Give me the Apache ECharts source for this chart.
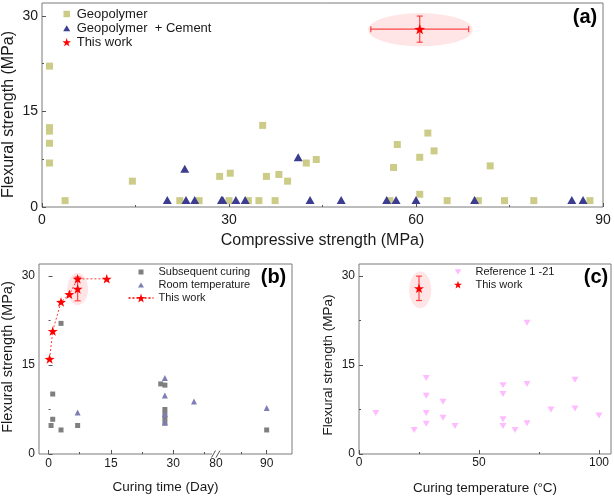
<!DOCTYPE html>
<html><head><meta charset="utf-8">
<script src="https://cdn.jsdelivr.net/npm/echarts@6/dist/echarts.min.js"></script>
<style>html,body{margin:0;padding:0;background:#fff}#c{width:614px;height:498px}</style>
</head><body><div id="c"></div>
<script>
// ---------- DATA ----------
// Panel (a): compressive strength (MPa) vs flexural strength (MPa)
const geopolymer = [[1.2,22.1],[1.2,12.45],[1.2,11.9],[1.2,10.0],[1.2,6.9],[3.7,1],[14.5,4.05],[22.1,1],[25.2,1],[28.5,4.8],[30.0,1],[30.2,5.3],[33.1,1],[34.8,1],[35.4,12.8],[36.0,4.8],[37.4,1],[38.0,5.1],[39.4,4.05],[42.4,6.9],[44.0,7.45],[55.8,1],[56.4,6.2],[57.0,9.8],[60.6,7.8],[60.6,2.0],[61.9,11.6],[62.9,8.8],[65.0,1],[70.0,1],[71.9,6.45],[74.2,1],[78.9,1],[87.9,1]];
const geopolymerCement = [[20.1,1.1],[22.9,6.0],[23.1,1.1],[24.5,1.1],[28.8,1.1],[29.0,1.1],[31.1,1.1],[32.6,1.1],[41.1,7.8],[43.0,1.1],[48.0,1.1],[55.3,1.1],[56.8,1.1],[60.0,1.1],[69.4,1.1],[85.0,1.1],[86.8,1.1]];
const thisWorkA = [[60.6,27.9]];
const thisWorkAErr = [[60.6,27.9,7.85,2.05]];   // x, y, x error, y error
const compTicks = [0,30,60,90];
const compMinorTicks = [15,45,75];

// Panel (b): curing time (day) vs flexural strength (MPa)
const subsequentCuring = [[0.6,4.8],[1,5.85],[1,10.1],[3,4.05],[3,22.0],[7,4.8],[27,11.8],[28,11.6],[28,7.5],[28,6.7],[28,6.0],[28,5.2],[90,4.05]];
const roomTemperature = [[7,7.0],[28,12.8],[28,9.85],[28,6.7],[28,5.3],[35,8.85],[90,7.75]];
const thisWorkB = [[0.25,16.0],[1,20.7],[3,25.6],[5,26.9],[7,29.5],[14,29.5]];
const thisWorkBExtra = [[7,27.8]];
const thisWorkBErr = [[7,27.8,0,2.0]];
const timeTicks = [0,15,30];
const timeMinorTicks = [7.5,22.5,37.5];
const timeTicksRight = [80,90];
const timeMinorTicksRight = [85];

// Panel (c): curing temperature (°C) vs flexural strength (MPa)
const reference = [[7,6.9],[23,4.05],[28,12.8],[28,9.8],[28,6.9],[28,5.1],[35,8.8],[35,6.1],[40,4.7],[60,11.6],[60,10.1],[60,5.85],[60,4.7],[65,4.05],[70,22.1],[70,11.8],[70,5.2],[80,7.5],[90,12.5],[90,7.65],[100,6.5]];
const thisWorkC = [[25,27.9]];
const thisWorkCErr = [[25,27.9,0,2.05]];
const tempTicks = [0,50,100];
const tempMinorTicks = [25,75];

// shared flexural-strength ticks
const flexTicks = [0,15,30];
const flexMinorTicks = [7.5,22.5];

// highlight ellipses around "This work" (centre x, centre y, half-width, half-height in data units)
const ellipseA = [[60.7,27.8,8.4,2.6]];
const ellipseB = [[7.0,27.8,2.5,2.7]];
const ellipseC = [[25.5,27.65,4.6,3.1]];

// ---------- STYLE ----------
const FONT = '"Liberation Sans", Arial, sans-serif';
const FRAME = '#7a7a7a';
const TXT = '#1a1a1a';
const RED = '#ff0000';

function starPath(cx, cy, R, box) {
  let s = box ? `M0,0 M${box},${box} ` : '';
  for (let k = 0; k < 10; k++) {
    const r = k % 2 ? R * 0.40 : R;
    const a = (-90 + 36 * k) * Math.PI / 180;
    s += (k ? 'L' : 'M') + (cx + r * Math.cos(a)).toFixed(3) + ',' + (cy + r * Math.sin(a)).toFixed(3) + ' ';
  }
  return 'path://' + s + 'Z';
}
const STAR = starPath(0, 0, 5, 0);
const padRect = (box, s) => { const a = (box - s) / 2, b = a + s; return `path://M0,0 M${box},${box} M${a},${a} L${b},${a} L${b},${b} L${a},${b} Z`; };
const padTri = (box, s, down) => { const a = (box - s) / 2, b = a + s, m = box / 2, h = s * 0.87, t = (box - h) / 2;
  return down ? `path://M0,0 M${box},${box} M${a},${t} L${b},${t} L${m},${t + h} Z` : `path://M0,0 M${box},${box} M${a},${t + h} L${b},${t + h} L${m},${t} Z`; };

function ellipseSeries(xi, yi, data) {
  return { type: 'custom', xAxisIndex: xi, yAxisIndex: yi, silent: true, z: 1, data,
    renderItem(p, api) {
      const c = api.coord([api.value(0), api.value(1)]);
      const s = api.size([api.value(2), api.value(3)]);
      return { type: 'ellipse', shape: { cx: c[0], cy: c[1], rx: s[0], ry: s[1] }, style: { fill: 'rgba(255,70,70,0.14)' } };
    } };
}
function errorSeries(xi, yi, data) {
  return { type: 'custom', xAxisIndex: xi, yAxisIndex: yi, silent: true, z: 3, data,
    renderItem(p, api) {
      const x = api.value(0), y = api.value(1), ex = api.value(2), ey = api.value(3);
      const st = { stroke: 'rgba(255,40,40,0.85)', lineWidth: 1.2 };
      const ch = []; const cap = 3;
      if (ex > 0) {
        const a = api.coord([x - ex, y]), b = api.coord([x + ex, y]);
        ch.push({ type: 'line', shape: { x1: a[0], y1: a[1], x2: b[0], y2: b[1] }, style: st });
        ch.push({ type: 'line', shape: { x1: a[0], y1: a[1] - cap, x2: a[0], y2: a[1] + cap }, style: st });
        ch.push({ type: 'line', shape: { x1: b[0], y1: b[1] - cap, x2: b[0], y2: b[1] + cap }, style: st });
      }
      if (ey > 0) {
        const a = api.coord([x, y - ey]), b = api.coord([x, y + ey]);
        ch.push({ type: 'line', shape: { x1: a[0], y1: a[1], x2: b[0], y2: b[1] }, style: st });
        ch.push({ type: 'line', shape: { x1: a[0] - cap, y1: a[1], x2: a[0] + cap, y2: a[1] }, style: st });
        ch.push({ type: 'line', shape: { x1: b[0] - cap, y1: b[1], x2: b[0] + cap, y2: b[1] }, style: st });
      }
      return { type: 'group', children: ch };
    } };
}

// axis with labelled major ticks
function majorAxis(o) {
  return {
    type: 'value', gridIndex: o.grid, position: o.pos, offset: 0, min: o.min, max: o.max, nameMoveOverlap: false,
    axisLine: { show: false }, splitLine: { show: false }, minorTick: { show: false },
    axisTick: { show: true, inside: true, length: 4, customValues: o.ticks, lineStyle: { color: '#555', width: 1 } },
    axisLabel: { show: true, color: TXT, fontFamily: FONT, fontSize: o.fs || 12, margin: o.margin || 4, customValues: o.labels || o.ticks },
    name: o.name || '', nameLocation: 'middle', nameGap: o.gap || 0,
    nameTextStyle: { color: TXT, fontFamily: FONT, fontSize: o.nfs || 13.5, padding: o.npad || 0 }
  };
}
// companion axis that only draws short minor ticks
function minorAxis(o) {
  return {
    type: 'value', gridIndex: o.grid, position: o.pos, offset: 0, min: o.min, max: o.max, nameMoveOverlap: false,
    axisLine: { show: false }, splitLine: { show: false }, minorTick: { show: false },
    axisTick: { show: true, inside: true, length: 2, customValues: o.ticks, lineStyle: { color: '#555', width: 1 } },
    axisLabel: { show: false }
  };
}
function hiddenAxis(grid, min, max, pos) {
  return { type: 'value', gridIndex: grid, position: pos, min, max, show: false, splitLine: { show: false } };
}

const leftPart = d => d.filter(p => p[0] <= 45);
const rightPart = d => d.filter(p => p[0] >= 75);

const gridBase = { containLabel: false, outerBoundsMode: 'none', backgroundColor: 'transparent' };
const framed = { show: true, borderColor: FRAME, borderWidth: 1 };

const option = {
  animation: false,
  backgroundColor: '#fff',
  textStyle: { fontFamily: FONT },
  grid: [
    Object.assign({ left: 42, top: 3, width: 561, height: 204 }, gridBase, framed),
    Object.assign({ left: 39, top: 264, width: 177, height: 190 }, gridBase),
    Object.assign({ left: 216, top: 264, width: 76, height: 190 }, gridBase),
    Object.assign({ left: 39, top: 264, width: 253, height: 190 }, gridBase, framed),
    Object.assign({ left: 359, top: 264, width: 252, height: 190 }, gridBase, framed)
  ],
  xAxis: [
    majorAxis({ grid: 0, pos: 'bottom', min: 0, max: 90, ticks: compTicks, fs: 14, margin: 6, name: 'Compressive strength (MPa)', gap: 26, nfs: 16 }), // 0
    minorAxis({ grid: 0, pos: 'bottom', min: 0, max: 90, ticks: compMinorTicks }),                                                           // 1
    majorAxis({ grid: 1, pos: 'bottom', min: -2.3, max: 40.3, ticks: timeTicks }),                                                           // 2
    minorAxis({ grid: 1, pos: 'bottom', min: -2.3, max: 40.3, ticks: timeMinorTicks }),                                                      // 3
    majorAxis({ grid: 2, pos: 'bottom', min: 80, max: 95, ticks: [90], labels: timeTicksRight }),                                            // 4
    minorAxis({ grid: 2, pos: 'bottom', min: 80, max: 95, ticks: timeMinorTicksRight }),                                                     // 5
    Object.assign(majorAxis({ grid: 3, pos: 'bottom', min: 0, max: 1, ticks: [], name: 'Curing time (Day)', gap: 26 }),
      { axisTick: { show: false }, axisLabel: { show: false } }),                                                                          // 6
    majorAxis({ grid: 4, pos: 'bottom', min: 0, max: 105, ticks: tempTicks, margin: 3, name: 'Curing temperature (°C)', gap: 27 }),          // 7
    minorAxis({ grid: 4, pos: 'bottom', min: 0, max: 105, ticks: tempMinorTicks })                                                           // 8
  ],
  yAxis: [
    majorAxis({ grid: 0, pos: 'left', min: 0, max: 32, ticks: flexTicks, fs: 14, margin: 4, name: 'Flexural strength (MPa)', gap: 25, nfs: 16, npad: [0, 19, 0, 0] }), // 0
    minorAxis({ grid: 0, pos: 'left', min: 0, max: 32, ticks: flexMinorTicks }),                                                        // 1
    majorAxis({ grid: 1, pos: 'left', min: 0, max: 32, ticks: flexTicks, name: 'Flexural strength (MPa)', gap: 24, nfs: 14.5, npad: [0, 0, 0, 4] }), // 2
    minorAxis({ grid: 1, pos: 'left', min: 0, max: 32, ticks: flexMinorTicks }),                                                        // 3
    hiddenAxis(2, 0, 32, 'left'),                                                                                                       // 4
    hiddenAxis(3, 0, 32, 'left'),                                                                                                       // 5
    majorAxis({ grid: 4, pos: 'left', min: 0, max: 32, ticks: flexTicks, name: 'Flexural strength (MPa)', gap: 24, nfs: 13.5, npad: [0, 12, 0, 0] }), // 6
    minorAxis({ grid: 4, pos: 'left', min: 0, max: 32, ticks: flexMinorTicks })                                                         // 7
  ],
  legend: [
    { orient: 'vertical', left: 61.7, top: 7.5, padding: 0, itemWidth: 10, itemHeight: 10, itemGap: 1.3, selectedMode: false,
      textStyle: { color: TXT, fontFamily: FONT, fontSize: 13 }, formatter: n => n.split('#')[0],
      data: [ { name: 'Geopolymer', icon: padRect(10, 6.5) }, { name: 'Geopolymer  + Cement', icon: padTri(10, 7, false) }, { name: 'This work#a', icon: starPath(5, 5, 4.5, 10) } ] },
    { orient: 'vertical', left: 127.5, top: 266.5, padding: 0, itemWidth: 25, itemHeight: 11, itemGap: 2, selectedMode: false,
      textStyle: { color: TXT, fontFamily: FONT, fontSize: 11 }, formatter: n => n.split('#')[0],
      data: [ { name: 'Subsequent curing', icon: padRect(11, 5) }, { name: 'Room temperature', icon: padTri(11, 6, false) }, { name: 'This work#b' } ] },
    { orient: 'vertical', left: 452.5, top: 266.5, padding: 0, itemWidth: 25, itemHeight: 11, itemGap: 2, selectedMode: false,
      textStyle: { color: TXT, fontFamily: FONT, fontSize: 11 }, formatter: n => n.split('#')[0],
      data: [ { name: 'Reference 1 -21', icon: padTri(11, 6.5, true) }, { name: 'This work#c', icon: starPath(5.5, 5.5, 4.2, 11) } ] }
  ],
  series: [
    // (a)
    ellipseSeries(0, 0, ellipseA),
    { name: 'Geopolymer', type: 'scatter', xAxisIndex: 0, yAxisIndex: 0, symbol: 'rect', symbolSize: 7, itemStyle: { color: '#cccc88', opacity: 1 }, data: geopolymer, z: 2 },
    { name: 'Geopolymer  + Cement', type: 'scatter', xAxisIndex: 0, yAxisIndex: 0, symbol: 'triangle', symbolSize: [9, 8], itemStyle: { color: '#3c3c90', opacity: 1 }, data: geopolymerCement, z: 2 },
    errorSeries(0, 0, thisWorkAErr),
    { name: 'This work#a', type: 'scatter', xAxisIndex: 0, yAxisIndex: 0, symbol: STAR, symbolKeepAspect: true, symbolSize: 11, itemStyle: { color: RED, opacity: 1 }, data: thisWorkA, z: 4 },
    // (b)
    ellipseSeries(2, 2, ellipseB),
    { name: 'Subsequent curing', type: 'scatter', xAxisIndex: 2, yAxisIndex: 2, symbol: 'rect', symbolSize: 5, itemStyle: { color: '#7f7f7f', opacity: 1 }, data: leftPart(subsequentCuring), z: 2 },
    { name: 'Subsequent curing', type: 'scatter', xAxisIndex: 4, yAxisIndex: 4, symbol: 'rect', symbolSize: 5, itemStyle: { color: '#7f7f7f', opacity: 1 }, data: rightPart(subsequentCuring), z: 2 },
    { name: 'Room temperature', type: 'scatter', xAxisIndex: 2, yAxisIndex: 2, symbol: 'triangle', symbolSize: 6, itemStyle: { color: '#7e7eb6', opacity: 1 }, data: leftPart(roomTemperature), z: 2 },
    { name: 'Room temperature', type: 'scatter', xAxisIndex: 4, yAxisIndex: 4, symbol: 'triangle', symbolSize: 6, itemStyle: { color: '#7e7eb6', opacity: 1 }, data: rightPart(roomTemperature), z: 2 },
    { name: 'This work#b', type: 'line', xAxisIndex: 2, yAxisIndex: 2, symbol: STAR, symbolKeepAspect: true, symbolSize: 10, showSymbol: true,
      lineStyle: { color: '#ff3b3b', width: 1, type: [2, 2] }, itemStyle: { color: RED, opacity: 1 }, data: thisWorkB, z: 4 },
    errorSeries(2, 2, thisWorkBErr),
    { name: 'This work extra', type: 'scatter', xAxisIndex: 2, yAxisIndex: 2, symbol: STAR, symbolKeepAspect: true, symbolSize: 10, itemStyle: { color: RED, opacity: 1 }, data: thisWorkBExtra, z: 4 },
    // (c)
    ellipseSeries(7, 6, ellipseC),
    { name: 'Reference 1 -21', type: 'scatter', xAxisIndex: 7, yAxisIndex: 6, symbol: 'triangle', symbolRotate: 180, symbolSize: [7, 6], itemStyle: { color: '#ffbbff', opacity: 1 }, data: reference, z: 2 },
    errorSeries(7, 6, thisWorkCErr),
    { name: 'This work#c', type: 'scatter', xAxisIndex: 7, yAxisIndex: 6, symbol: STAR, symbolKeepAspect: true, symbolSize: 10, itemStyle: { color: RED, opacity: 1 }, data: thisWorkC, z: 4 }
  ],
  graphic: [
    { type: 'text', x: 585, y: 17, style: { text: '(a)', fill: '#000', font: 'bold 20px ' + FONT, align: 'center', verticalAlign: 'middle' } },
    { type: 'text', x: 273.5, y: 277, style: { text: '(b)', fill: '#000', font: 'bold 20px ' + FONT, align: 'center', verticalAlign: 'middle' } },
    { type: 'text', x: 596, y: 277, style: { text: '(c)', fill: '#000', font: 'bold 20px ' + FONT, align: 'center', verticalAlign: 'middle' } },
    { type: 'rect', shape: { x: 212, y: 452, width: 8, height: 4 }, style: { fill: '#fff' }, z: 100 },
    { type: 'line', shape: { x1: 211.5, y1: 457.5, x2: 215.5, y2: 450.5 }, style: { stroke: '#555', lineWidth: 1 }, z: 101 },
    { type: 'line', shape: { x1: 216, y1: 457.5, x2: 220, y2: 450.5 }, style: { stroke: '#555', lineWidth: 1 }, z: 101 }
  ]
};

const chart = echarts.init(document.getElementById('c'), null, { renderer: 'canvas' });
chart.setOption(option);
</script>
</body></html>
